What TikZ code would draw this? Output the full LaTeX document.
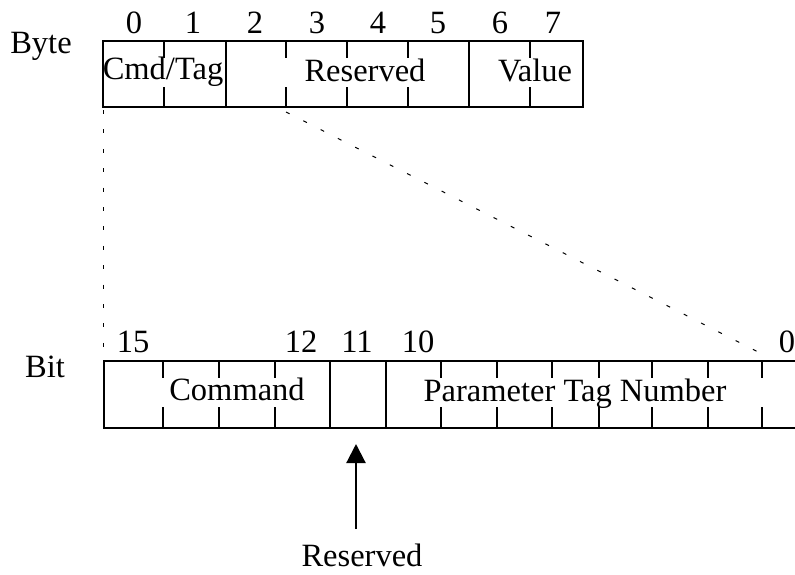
\documentclass[tikz,border=0pt]{standalone}
\usepackage{fontspec}
\setmainfont{Liberation Serif}
\usetikzlibrary{arrows.meta}
\tikzset{
  lbl/.style={font=\fontsize{32.5}{38}\selectfont, inner sep=0pt, anchor=base},
  frame/.style={line width=2.2pt},
  guide/.style={line width=1pt, dash pattern=on 4pt off 15.4pt},
}
\begin{document}
\begin{tikzpicture}[x=1pt,y=-1pt]
\useasboundingbox (0,0) rectangle (795,574);

% byte row
\draw[frame] (103,41) rectangle (583,107);
\draw[frame]
    (226,41) -- (226,107)   % byte 1|2
    (469,41) -- (469,107);  % byte 5|6
\draw[frame]
    (164,41) -- (164,58)  (164,87) -- (164,107)   % byte 0|1
    (286,41) -- (286,58)  (286,87) -- (286,107)   % byte 2|3
    (347,41) -- (347,58)  (347,87) -- (347,107)   % byte 3|4
    (408,41) -- (408,58)  (408,87) -- (408,107)   % byte 4|5
    (530,41) -- (530,58)  (530,87) -- (530,107);  % byte 6|7
\node[lbl] (byte) at (41,53) {Byte};
\node[lbl] (b0) at (134,33) {0};
\node[lbl] (b1) at (193,33) {1};
\node[lbl] (b2) at (255,33) {2};
\node[lbl] (b3) at (317,33) {3};
\node[lbl] (b4) at (378,33) {4};
\node[lbl] (b5) at (438,33) {5};
\node[lbl] (b6) at (500,33) {6};
\node[lbl] (b7) at (553,33) {7};
\node[lbl] (cmdtag) at (163,79) {Cmd/Tag};
\node[lbl] (resvbyte) at (365,81) {Reserved};
\node[lbl] (value) at (535,81) {Value};

% bit row
\draw[frame] (795,361) -- (104,361) -- (104,428) -- (795,428);
\draw[frame]
    (330,361) -- (330,428)   % bit 12|11
    (386,361) -- (386,428);  % bit 11|10
\draw[frame]
    (163,361) -- (163,378)  (163,407) -- (163,428)   % bit 15|14
    (219,361) -- (219,378)  (219,407) -- (219,428)   % bit 14|13
    (275,361) -- (275,378)  (275,407) -- (275,428)   % bit 13|12
    (441,361) -- (441,378)  (441,407) -- (441,428)   % bit 10|9
    (497,361) -- (497,378)  (497,407) -- (497,428)   % bit 9|8
    (552,361) -- (552,378)  (552,407) -- (552,428)   % bit 8|7
    (599,361) -- (599,378)  (599,407) -- (599,428)   % bit 7|6
    (652,361) -- (652,378)  (652,407) -- (652,428)   % bit 6|5
    (708,361) -- (708,378)  (708,407) -- (708,428)   % bit 5|4
    (762,361) -- (762,378)  (762,407) -- (762,428);  % bit 4|3
\node[lbl] (bit) at (45,377) {Bit};
\node[lbl] (t15) at (133,352) {15};
\node[lbl] (t12) at (301,352) {12};
\node[lbl] (t11) at (357,352) {11};
\node[lbl] (t10) at (418,352) {10};
\node[lbl] (t0) at (787,352) {0};
\node[lbl] (command) at (237,400) {Command};
\node[lbl] (paramtag) at (575,401) {Parameter Tag Number};

% zoom lines
\coordinate (byteA) at (103,110);
\coordinate (bitA) at (103,347);
\coordinate (byteB) at (286,112);
\coordinate (bitB) at (770,358);
\draw[guide] (byteA) -- (bitA);
\draw[guide] (byteB) -- (bitB);

% reserved bit
\node[lbl] (resvbit) at (362,566) {Reserved};
\coordinate (arrowfoot) at (356,529);
\coordinate (arrowtip) at (356,444);
\draw[line width=2.2pt, -{Triangle[length=19pt,width=19pt]}] (arrowfoot) -- (arrowtip);

\end{tikzpicture}
\end{document}
